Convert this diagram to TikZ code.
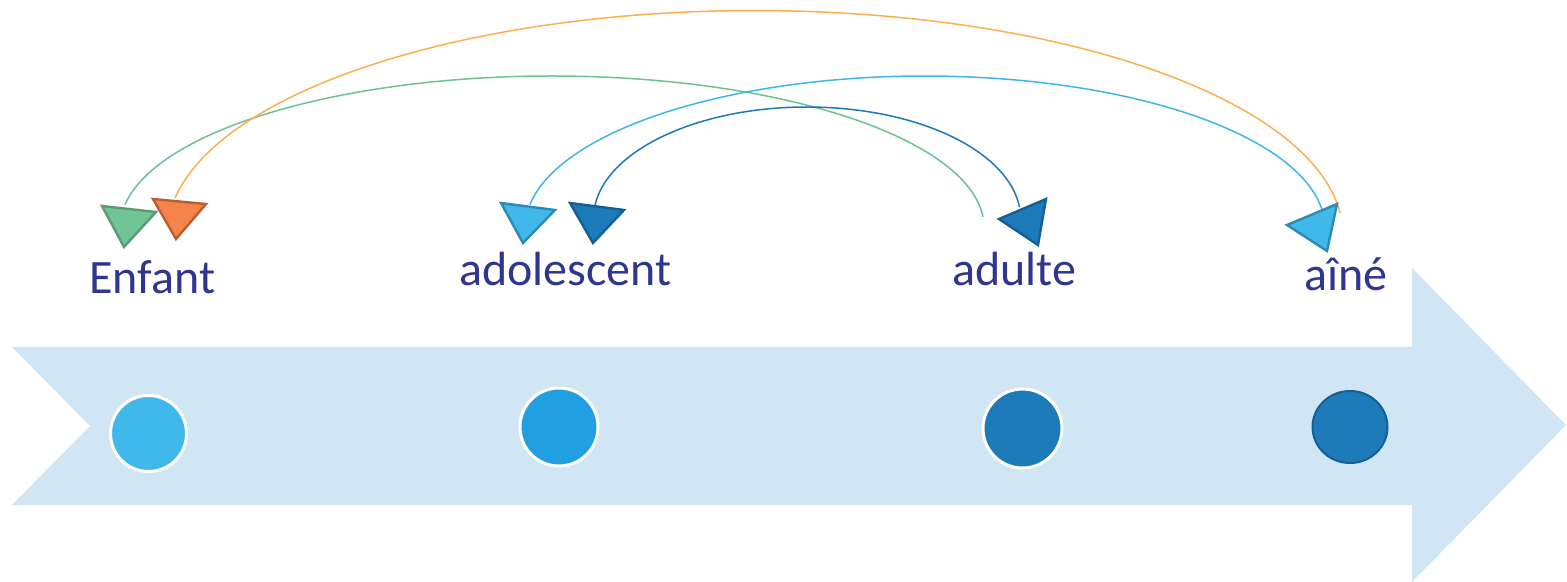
\documentclass[tikz,border=0pt]{standalone}
\usepackage{fontspec}
\setmainfont{Carlito}
\definecolor{bandblue}{HTML}{D0E6F5}
\definecolor{txtblue}{HTML}{2F3690}
\definecolor{lblue}{HTML}{41B8EA}
\definecolor{mblue}{HTML}{229FE0}
\definecolor{dblue}{HTML}{1D7BBA}
\definecolor{dbluebd}{HTML}{145F95}
\definecolor{lbluebd}{HTML}{2C8AB5}
\definecolor{tgreen}{HTML}{70C495}
\definecolor{tgreenbd}{HTML}{5B9B74}
\definecolor{torange}{HTML}{F5834A}
\definecolor{torangebd}{HTML}{B5602F}
\definecolor{agreen}{HTML}{6CC290}
\definecolor{aorange}{HTML}{FBB050}
\definecolor{ablue}{HTML}{3FB6EA}
\definecolor{adblue}{HTML}{1E77B9}
\begin{document}
\begin{tikzpicture}[x=0.5pt,y=-0.5pt,
  lbl/.style={anchor=base west, inner sep=0pt, text=txtblue, font=\fontsize{24}{28}\selectfont},
  dot/.style={circle, inner sep=0pt, draw=white, line width=1.5pt},
  tri/.style={line width=1.2pt, line join=miter},
  link/.style={line width=0.75pt}]
\useasboundingbox (0,0) rectangle (1567,582);
% big arrow band
\fill[bandblue] (12,347) -- (1412,347) -- (1412,268) -- (1566,425) -- (1412,582) -- (1412,505) -- (12,505) -- (90,426) -- cycle;
% milestones
\node[dot, fill=lblue, minimum size=38pt] (c1) at (148.5,433.5) {};
\node[dot, fill=mblue, minimum size=39pt] (c2) at (559,427) {};
\node[dot, fill=dblue, minimum size=39.5pt] (c3) at (1022.5,428.5) {};
\draw[fill=dblue, draw=dbluebd, line width=1pt] (1350,427) ellipse [x radius=18.75pt, y radius=18pt];
\coordinate (c4) at (1350,427);
% labels
\node[lbl] (enfant) at (89,294) {Enfant};
\node[lbl] (ado) at (459,286) {adolescent};
\node[lbl] (adulte) at (952,286) {adulte};
\node[lbl] (aine) at (1304,291) {aîné};
% arc end points
\coordinate (gS) at (125.0,204.6);
\coordinate (oS) at (175.1,198.0);
\coordinate (lS) at (529.9,204.5);
\coordinate (dS) at (595.0,205.1);
% arcs
\draw[link, agreen] (gS) arc[start angle=171.3, end angle=4, x radius=216pt, y radius=75.75pt];
\draw[link, aorange] (oS) arc[start angle=170.5, end angle=5.6, x radius=294pt, y radius=112.25pt];
\draw[link, ablue] (lS) arc[start angle=171, end angle=7, x radius=200pt, y radius=76.15pt];
\draw[link, adblue] (dS) arc[start angle=173, end angle=6, x radius=106.8pt, y radius=55.85pt];
% triangles
\draw[tri, fill=tgreen, draw=tgreenbd] (102,206) -- (156,212) -- (124,247) -- cycle;
\draw[tri, fill=torange, draw=torangebd] (153,199) -- (206,204) -- (176,239) -- cycle;
\draw[tri, fill=lblue, draw=lbluebd] (501,203) -- (555,210) -- (523,243) -- cycle;
\draw[tri, fill=dblue, draw=dbluebd] (570,203) -- (624,210) -- (593,243) -- cycle;
\draw[tri, fill=dblue, draw=dbluebd] (999,219) -- (1046,199) -- (1038,245) -- cycle;
\draw[tri, fill=lblue, draw=lbluebd] (1287,225) -- (1337,204) -- (1327,251) -- cycle;
\end{tikzpicture}
\end{document}
